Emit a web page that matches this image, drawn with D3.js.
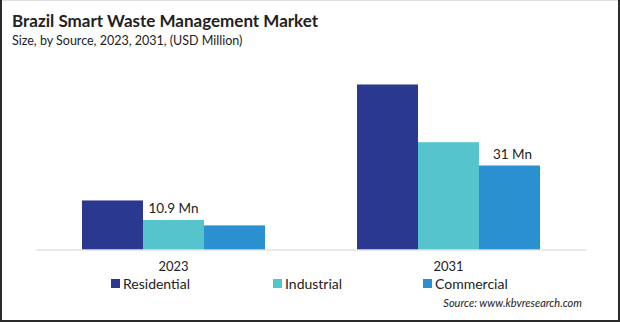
<!DOCTYPE html>
<html>
<head>
<meta charset="utf-8">
<script src="https://cdn.jsdelivr.net/npm/d3@7"></script>
<style>
  html, body { margin: 0; padding: 0; background: #fff; }
  svg { display: block; }
  text { font-family: Lato, "Open Sans", sans-serif; fill: #222; }
</style>
</head>
<body>
<script>
// Market size by source, USD million
const years = ["2023", "2031"];
const sources = ["Residential", "Industrial", "Commercial"];
const residential = [18.1, 60.9];
const industrial = [10.9, 39.6];
const commercial = [8.9, 31];
const colors = ["#2b388f", "#55c4cc", "#2a90cf"];
// Value callouts: [source index, year index, text]
const callouts = [[1, 0, "10.9 Mn"], [2, 1, "31 Mn"]];

const W = 620, H = 322;
const series = [residential, industrial, commercial];

const svg = d3.select("body").append("svg")
  .attr("width", W).attr("height", H);

svg.append("rect").attr("width", W).attr("height", H).attr("fill", "#fff");

// Frame
svg.append("line").attr("x1", 0).attr("x2", W).attr("y1", 0.5).attr("y2", 0.5)
  .attr("stroke", "#e0e0e0");
svg.append("path")
  .attr("d", `M1,0 V${H - 1} H${W - 1} V0`)
  .attr("fill", "none").attr("stroke", "#2a2a2a").attr("stroke-width", 2);

// Titles
svg.append("text").attr("x", 12).attr("y", 27)
  .attr("font-size", 17).attr("font-weight", 700)
  .text("Brazil Smart Waste Management Market");
svg.append("text").attr("x", 12).attr("y", 45)
  .attr("font-size", 12.5)
  .text("Size, by Source, 2023, 2031, (USD Million)");

// Scales
const x0 = d3.scaleBand().domain(years).range([36, 586])
  .paddingInner(0.3345).paddingOuter(0.1672);
const x1 = d3.scaleBand().domain(sources).range([0, x0.bandwidth()]);
const y = d3.scaleLinear().domain([0, 62]).range([249.5, 81.5]);

// Bars
sources.forEach((s, si) => {
  svg.append("g").selectAll("rect")
    .data(years.map((yr, yi) => ({ yr, v: series[si][yi] })))
    .join("rect")
    .attr("x", d => x0(d.yr) + x1(s))
    .attr("y", d => y(d.v))
    .attr("width", x1.bandwidth())
    .attr("height", d => y(0) - y(d.v))
    .attr("fill", colors[si]);
});

// Baseline axis
const xAxis = svg.append("g").attr("transform", `translate(0,${y(0)})`)
  .call(d3.axisBottom(x0).tickSize(0).tickPadding(12));
xAxis.select(".domain").attr("stroke", "#d4d4d4").attr("stroke-width", 1.2);
xAxis.selectAll("text").attr("font-size", 13).attr("fill", "#222")
  .attr("font-family", "Lato, sans-serif");

// Value labels
callouts.forEach(([si, yi, t]) => {
  svg.append("text")
    .attr("x", x0(years[yi]) + x1(sources[si]) + x1.bandwidth() / 2 + (si === 2 ? 3 : 0))
    .attr("y", y(series[si][yi]) - 7)
    .attr("text-anchor", "middle")
    .attr("font-size", 13.5)
    .text(t);
});

// Legend
const legendX = [111, 273, 423];
const legend = svg.append("g").selectAll("g").data(sources).join("g")
  .attr("transform", (d, i) => `translate(${legendX[i]},279)`);
legend.append("rect").attr("width", 9).attr("height", 9)
  .attr("fill", (d, i) => colors[i]);
legend.append("text").attr("x", 12).attr("y", 9.5)
  .attr("font-size", 14).text(d => d);

// Source note
svg.append("text").attr("x", 582).attr("y", 307)
  .attr("text-anchor", "end").attr("font-size", 11).attr("font-style", "italic")
  .text("Source: www.kbvresearch.com");
</script>
</body>
</html>
